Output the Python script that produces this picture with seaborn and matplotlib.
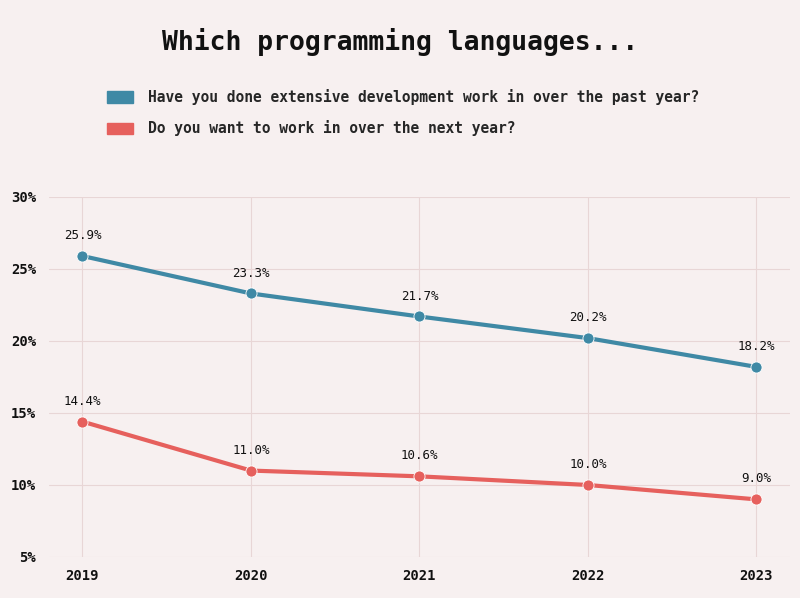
import pandas as pd
import matplotlib.pyplot as plt
import matplotlib.patches as mpatches
import seaborn as sns

# data
years = [2019, 2020, 2021, 2022, 2023]
past_year = [25.9, 23.3, 21.7, 20.2, 18.2]
next_year = [14.4, 11.0, 10.6, 10.0, 9.0]
labels = ['Have you done extensive development work in over the past year?',
          'Do you want to work in over the next year?']
colors = ['#3f89a5', '#e6605d']

df = pd.DataFrame({
    'year': years * 2,
    'pct': past_year + next_year,
    'question': [labels[0]] * len(years) + [labels[1]] * len(years),
})

bg = '#f7f0f0'
sns.set_theme(style='whitegrid')
plt.rcParams['font.family'] = ['DejaVu Sans Mono', 'DejaVu Sans']

fig = plt.figure(figsize=(8, 5.98), dpi=100, facecolor=bg)
ax = fig.add_axes([0.061, 0.0686, 0.9265, 0.602])
ax.set_facecolor(bg)

sns.lineplot(data=df, x='year', y='pct', hue='question', palette=colors,
             marker='o', markersize=8, markeredgecolor='white', markeredgewidth=0.6,
             linewidth=3, legend=False, ax=ax)

# value labels
for vals in (past_year, next_year):
    for x, v in zip(years, vals):
        ax.annotate(f'{v:.1f}%', (x, v), xytext=(0, 10), textcoords='offset points',
                    ha='center', va='bottom', fontsize=9, color='#111111')

ax.set_xlim(2018.8, 2023.2)
ax.set_ylim(5, 30)
ax.set_xticks(years)
ax.set_xticklabels([str(y) for y in years], fontsize=10, fontweight='bold')
ax.set_yticks([5, 10, 15, 20, 25, 30])
ax.set_yticklabels([f'{t}%' for t in [5, 10, 15, 20, 25, 30]], fontsize=10, fontweight='bold')
ax.tick_params(axis='both', length=0, pad=9, colors='#111111')
ax.set_xlabel('')
ax.set_ylabel('')
ax.grid(True, color='#e8d6d6', linewidth=0.8)
for s in ax.spines.values():
    s.set_visible(False)

fig.text(0.5, 0.93, 'Which programming languages...', ha='center', va='center',
         fontsize=19, fontweight='bold', color='#111111')

handles = [mpatches.Patch(facecolor=c, edgecolor=c, label=l) for c, l in zip(colors, labels)]
fig.legend(handles=handles, loc='upper left', bbox_to_anchor=(0.117, 0.873),
           frameon=False, prop={'weight': 'bold', 'size': 10.5},
           handlelength=1.8, handleheight=0.8, labelspacing=1.05, handletextpad=1.0)

fig.savefig('out.png', dpi=100, facecolor=bg)
